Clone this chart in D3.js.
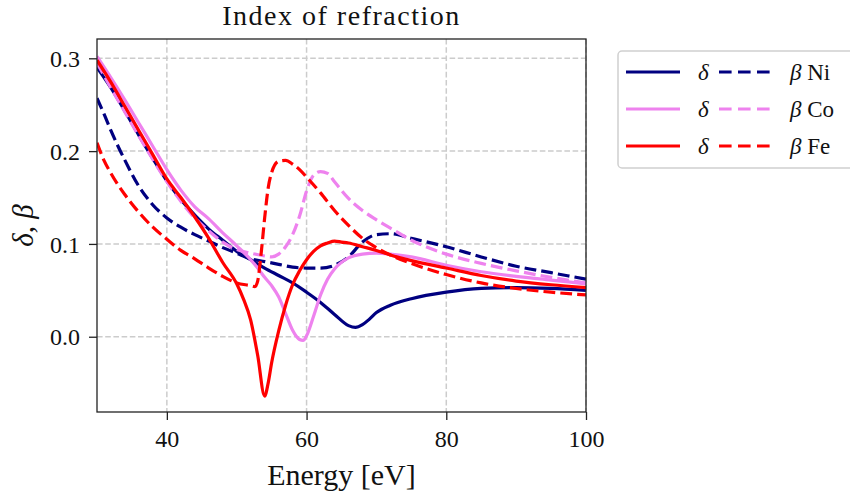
<!DOCTYPE html>
<html>
<head>
<meta charset="utf-8">
<script src="https://cdn.jsdelivr.net/npm/d3@7"></script>
<style>
  body { margin: 0; background: #fff; }
  svg text { font-family: "Liberation Serif", "DejaVu Serif", serif; fill: #111; }
</style>
</head>
<body>
<svg id="chart" width="850" height="500"></svg>
<script>
// x ticks / y ticks
var xTicks = [40, 60, 80, 100];
var yTicks = [0.0, 0.1, 0.2, 0.3];

// Ni
var niDeltaE = [30, 32, 34, 36, 38, 40, 42, 44, 46, 48, 50, 52, 54, 56, 58, 60, 62, 64, 66, 67, 68, 69, 70, 72, 75, 80, 85, 90, 95, 100];
var niDelta  = [0.290, 0.268, 0.243, 0.217, 0.192, 0.168, 0.148, 0.131, 0.116, 0.104, 0.092, 0.083, 0.074, 0.066, 0.058, 0.048, 0.037, 0.024, 0.012, 0.010, 0.013, 0.019, 0.026, 0.034, 0.041, 0.048, 0.052, 0.053, 0.052, 0.050];
var niBetaE  = [30, 31, 32, 34, 36, 38, 40, 42, 44, 46, 48, 50, 52, 54, 56, 58, 60, 62, 64, 66, 68, 70, 72, 75, 80, 85, 90, 95, 100];
var niBeta   = [0.257, 0.240, 0.222, 0.190, 0.162, 0.142, 0.128, 0.118, 0.110, 0.103, 0.096, 0.090, 0.084, 0.081, 0.078, 0.075, 0.074, 0.074, 0.077, 0.086, 0.102, 0.110, 0.111, 0.106, 0.097, 0.086, 0.076, 0.069, 0.062];

// Co
var coDeltaE = [30, 32, 34, 36, 38, 40, 42, 44, 46, 48, 50, 52, 53, 54, 55, 56, 57, 58, 59, 59.5, 60, 61, 62, 63, 64, 66, 68, 70, 72, 75, 80, 85, 90, 95, 100];
var coDelta  = [0.302, 0.279, 0.255, 0.230, 0.205, 0.180, 0.158, 0.140, 0.127, 0.112, 0.098, 0.083, 0.074, 0.064, 0.055, 0.043, 0.025, 0.007, -0.003, -0.004, 0.001, 0.022, 0.045, 0.062, 0.073, 0.085, 0.089, 0.090, 0.089, 0.086, 0.077, 0.070, 0.065, 0.061, 0.057];
var coBetaE  = [30, 32, 34, 36, 38, 40, 42, 44, 46, 48, 50, 52, 54, 55, 56, 57, 58, 59, 60, 61, 62, 63, 64, 66, 68, 70, 72, 75, 80, 85, 90, 95, 100];
var coBeta   = [0.295, 0.268, 0.242, 0.216, 0.191, 0.167, 0.146, 0.128, 0.114, 0.102, 0.094, 0.090, 0.087, 0.086, 0.089, 0.097, 0.110, 0.130, 0.157, 0.174, 0.178, 0.176, 0.167, 0.149, 0.136, 0.126, 0.117, 0.104, 0.089, 0.079, 0.071, 0.064, 0.058];

// Fe
var feDeltaE = [30, 32, 34, 36, 38, 40, 42, 44, 46, 48, 50, 51, 52, 53, 54, 54.5, 55, 56, 57, 58, 59, 60, 61, 62, 63, 64, 65, 66, 68, 70, 72, 75, 80, 85, 90, 95, 100];
var feDelta  = [0.298, 0.274, 0.248, 0.222, 0.196, 0.170, 0.150, 0.129, 0.106, 0.080, 0.057, 0.040, 0.018, -0.020, -0.064, -0.050, -0.028, 0.006, 0.034, 0.056, 0.071, 0.083, 0.092, 0.098, 0.101, 0.103, 0.102, 0.101, 0.097, 0.093, 0.088, 0.082, 0.074, 0.066, 0.060, 0.056, 0.053];
var feBetaE  = [30, 31, 32, 34, 36, 38, 40, 42, 44, 46, 48, 50, 52, 52.6, 53, 53.5, 54, 54.5, 55, 56, 57, 58, 59, 60, 62, 64, 66, 68, 70, 72, 75, 80, 85, 90, 95, 100];
var feBeta   = [0.209, 0.190, 0.176, 0.153, 0.134, 0.118, 0.105, 0.093, 0.084, 0.074, 0.065, 0.058, 0.055, 0.054, 0.060, 0.090, 0.128, 0.160, 0.177, 0.189, 0.190, 0.186, 0.180, 0.172, 0.155, 0.136, 0.120, 0.106, 0.096, 0.088, 0.079, 0.067, 0.058, 0.052, 0.048, 0.045];

var elements = ["Ni", "Co", "Fe"];
var colors = ["#000080", "#ee82ee", "#ff0000"];

var svg = d3.select("#chart"),
    plot = {left: 97, right: 586, top: 39, bottom: 412};

var x = d3.scaleLinear().domain([30, 100]).range([plot.left, plot.right]),
    y = d3.scaleLinear().domain([-0.0811, 0.3208]).range([plot.bottom, plot.top]);

svg.append("defs").append("clipPath").attr("id", "clip")
  .append("rect")
    .attr("x", plot.left).attr("y", plot.top)
    .attr("width", plot.right - plot.left).attr("height", plot.bottom - plot.top);

// grid
var grid = svg.append("g").attr("class", "grid")
    .style("stroke", "#cccccc").style("stroke-width", 1.5).style("stroke-dasharray", "5.6,2.6");
grid.selectAll(".gx").data(xTicks).enter().append("line")
    .attr("x1", function(d) { return x(d); }).attr("x2", function(d) { return x(d); })
    .attr("y1", plot.top).attr("y2", plot.bottom);
grid.selectAll(".gy").data(yTicks).enter().append("line")
    .attr("y1", function(d) { return y(d); }).attr("y2", function(d) { return y(d); })
    .attr("x1", plot.left).attr("x2", plot.right);

// curves
var series = [
  {e: niDeltaE, v: niDelta, c: colors[0], dash: false},
  {e: niBetaE,  v: niBeta,  c: colors[0], dash: true},
  {e: coDeltaE, v: coDelta, c: colors[1], dash: false},
  {e: coBetaE,  v: coBeta,  c: colors[1], dash: true},
  {e: feDeltaE, v: feDelta, c: colors[2], dash: false},
  {e: feBetaE,  v: feBeta,  c: colors[2], dash: true}
];

var line = d3.line()
    .x(function(d) { return x(d[0]); })
    .y(function(d) { return y(d[1]); })
    .curve(d3.curveMonotoneX);

svg.append("g").attr("clip-path", "url(#clip)")
  .selectAll("path")
  .data(series)
  .enter().append("path")
    .attr("d", function(s) { return line(d3.zip(s.e, s.v)); })
    .attr("fill", "none")
    .attr("stroke", function(s) { return s.c; })
    .attr("stroke-width", 3.2)
    .attr("stroke-dasharray", function(s) { return s.dash ? "11.8,5.1" : null; });

// axes
var xAxis = svg.append("g")
    .attr("transform", "translate(0," + plot.bottom + ")")
    .call(d3.axisBottom(x).tickValues(xTicks).tickSize(8).tickPadding(10).tickFormat(d3.format("d")));
var yAxis = svg.append("g")
    .attr("transform", "translate(" + plot.left + ",0)")
    .call(d3.axisLeft(y).tickValues(yTicks).tickSize(8).tickPadding(9).tickFormat(d3.format(".1f")));
[xAxis, yAxis].forEach(function(a) {
  a.select(".domain").remove();
  a.selectAll("line").attr("stroke", "#222").attr("stroke-width", 1.3);
  a.selectAll("text").style("font-size", "24px").attr("fill", "#111");
});
yAxis.selectAll("text").attr("dy", "0.34em");

svg.append("rect")
    .attr("x", plot.left).attr("y", plot.top)
    .attr("width", plot.right - plot.left).attr("height", plot.bottom - plot.top)
    .attr("fill", "none").attr("stroke", "#222").attr("stroke-width", 1.3);

// labels
svg.append("text")
    .attr("x", (plot.left + plot.right) / 2).attr("y", 25)
    .attr("text-anchor", "middle").style("font-size", "28px").style("letter-spacing", "1.5px")
    .text("Index of refraction");

svg.append("text")
    .attr("x", (plot.left + plot.right) / 2).attr("y", 485)
    .attr("text-anchor", "middle").style("font-size", "30px")
    .text("Energy [eV]");

svg.append("text")
    .attr("transform", "translate(33," + ((plot.top + plot.bottom) / 2) + ") rotate(-90)")
    .attr("text-anchor", "middle").style("font-size", "29px").style("font-style", "italic")
    .text("δ, β");

// legend
var legend = svg.append("g");
legend.append("rect")
    .attr("x", 618).attr("y", 51).attr("width", 250).attr("height", 117)
    .attr("rx", 4).attr("fill", "#fff").attr("stroke", "#d0d0d0").attr("stroke-width", 1.5);

var rows = legend.selectAll(".row").data(elements).enter().append("g")
    .attr("transform", function(d, i) { return "translate(0," + (72 + i * 37) + ")"; });
rows.append("line").attr("x1", 626).attr("x2", 680)
    .attr("stroke", function(d, i) { return colors[i]; }).attr("stroke-width", 3.2);
rows.append("text").attr("x", 698).attr("dy", "0.35em")
    .style("font-size", "23px").style("font-style", "italic").text("δ");
rows.append("line").attr("x1", 719).attr("x2", 770)
    .attr("stroke", function(d, i) { return colors[i]; }).attr("stroke-width", 3.2)
    .attr("stroke-dasharray", "12.6,6.4");
rows.append("text").attr("x", 790).attr("dy", "0.35em")
    .style("font-size", "23px")
    .html(function(d) { return '<tspan font-style="italic">β</tspan> ' + d; });
</script>
</body>
</html>
